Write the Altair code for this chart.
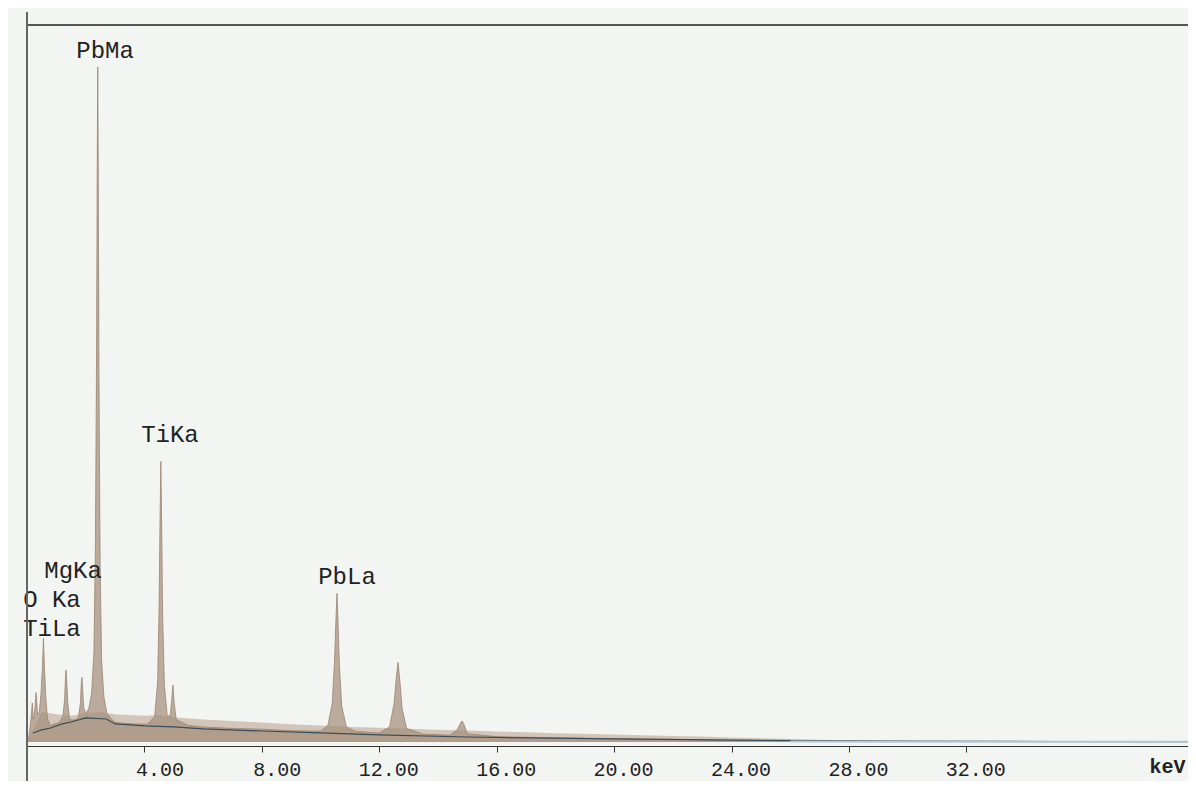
import altair as alt
import pandas as pd

# ---- spectrum (keV, counts) ----
spec_kev = [0.00, 0.05, 0.10, 0.15, 0.18, 0.21, 0.26, 0.31, 0.36, 0.42, 0.48, 0.53, 0.56, 0.59, 0.64,
            0.70, 0.80, 0.95, 1.10, 1.22, 1.28, 1.31, 1.33, 1.35, 1.39, 1.45, 1.60, 1.75, 1.82, 1.85,
            1.87, 1.89, 1.93, 2.00, 2.10, 2.20, 2.28, 2.33, 2.37, 2.39, 2.41, 2.43, 2.45, 2.49, 2.54,
            2.62, 2.72, 2.85, 3.00, 3.30, 3.70, 4.10, 4.35, 4.45, 4.50, 4.53, 4.56, 4.59, 4.62, 4.68,
            4.78, 4.88, 4.93, 4.97, 5.01, 5.08, 5.50, 6.00, 7.00, 8.00, 9.00, 10.00, 10.25, 10.40, 10.48,
            10.53, 10.56, 10.59, 10.64, 10.72, 10.88, 11.20, 12.00, 12.35, 12.50, 12.58, 12.64, 12.70, 12.78,
            12.93, 13.50, 14.40, 14.65, 14.78, 14.82, 14.88, 15.00, 16.00, 18.00, 20.00, 22.00, 24.00, 26.00,
            28.00, 30.00, 34.00, 39.55]
spec_counts = [0, 20, 90, 180, 260, 150, 200, 330, 180, 200, 330, 520, 690, 520, 300,
               150, 110, 120, 130, 170, 280, 430, 480, 420, 260, 150, 145, 160, 260, 390,
               430, 380, 230, 190, 220, 320, 600, 1300, 2600, 3700, 4500, 3700, 2500, 1200, 550,
               300, 190, 160, 130, 125, 120, 118, 170, 400, 900, 1450, 1870, 1400, 850, 380,
               170, 180, 280, 380, 270, 150, 110, 100, 90, 85, 75, 72, 110, 260, 560,
               850, 990, 830, 520, 240, 100, 70, 60, 100, 250, 430, 530, 410, 220,
               90, 52, 45, 80, 130, 140, 120, 55, 35, 28, 22, 17, 12, 8,
               5, 3, 2, 1]

# ---- noise envelope of the continuum ----
env_kev = [0.0, 0.5, 1.0, 1.5, 2.0, 2.5, 3.0, 3.5, 4.0, 4.5, 5.0, 6.0, 7.0, 8.0, 9.0, 10.0,
           11.0, 12.0, 13.0, 14.0, 15.0, 16.0, 17.0, 18.0, 19.0, 20.0, 21.0, 22.0, 23.0, 24.0,
           25.0, 26.0, 27.0, 28.0, 29.0, 30.0]
env_counts = [0, 200, 185, 175, 190, 200, 185, 180, 175, 180, 165, 150, 140, 130, 118, 110,
              100, 95, 88, 82, 76, 70, 64, 58, 54, 50, 45, 40, 36, 30,
              25, 20, 14, 9, 5, 2]

# ---- fitted background line ----
bg_kev = [0.2, 0.5, 0.8, 1.2, 1.5, 2.0, 2.7, 3.0, 4.0, 5.0, 6.0, 8.0, 10.0, 12.0, 15.0, 20.0,
          25.0, 30.0, 35.0, 39.5]
bg_counts = [60, 80, 93, 120, 133, 160, 153, 120, 107, 100, 87, 73, 60, 47, 33, 20,
             10, 6, 3, 2]

# ---- high-energy faint trace ----
tail_kev = [26.0, 30.0, 34.0, 39.55]
tail_counts = [3, 2, 1, 1]

# ---- peak labels ----
label_text = ["PbMa", "TiKa", "PbLa", "MgKa", "O Ka", "TiLa"]
label_kev = [2.66, 4.87, 10.90, 1.57, 0.85, 0.85]
label_counts = [4607, 2047, 1100, 1140, 947, 753]

tick_values = [4, 8, 12, 16, 20, 24, 28, 32]

W, H = 1161, 721
xs = alt.Scale(domain=[0, 39.55], nice=False, zero=False)
ys = alt.Scale(domain=[-27, 4780], nice=False)

spec = pd.DataFrame({"kev": spec_kev, "counts": spec_counts})
env = pd.DataFrame({"kev": env_kev, "counts": env_counts})
bg = pd.DataFrame({"kev": bg_kev, "counts": bg_counts})
tail = pd.DataFrame({"kev": tail_kev, "counts": tail_counts})
labels = pd.DataFrame({"label": label_text, "kev": label_kev, "counts": label_counts})

xaxis = alt.Axis(values=tick_values, format=".2f", grid=False, domainColor="#333333",
                 domainWidth=1.2, tickColor="#333333", tickSize=6, labelFont="Liberation Mono",
                 labelFontSize=20, labelColor="#222222", labelAlign="right", labelOffset=39,
                 labelBaseline="middle", labelPadding=17, title="keV", titleX=1140, titleY=20,
                 titleFont="Liberation Mono", titleFontSize=20, titleFontWeight="bold",
                 titleColor="#222222", titleBaseline="middle", titleAlign="center")

env_layer = alt.Chart(env).mark_area(color="#c4b2a1", opacity=0.7).encode(
    x=alt.X("kev:Q", scale=xs, axis=xaxis),
    y=alt.Y("counts:Q", scale=ys, axis=None),
)
spec_layer = alt.Chart(spec).mark_area(color="#a38c78", line={"color": "#9a8470", "strokeWidth": 0.8}).encode(
    x=alt.X("kev:Q", scale=xs),
    y=alt.Y("counts:Q", scale=ys),
)
bg_layer = alt.Chart(bg).mark_line(color="#3a4e57", strokeWidth=1.2).encode(
    x=alt.X("kev:Q", scale=xs),
    y=alt.Y("counts:Q", scale=ys),
)
tail_layer = alt.Chart(tail).mark_line(color="#b5c6d4", strokeWidth=2).encode(
    x=alt.X("kev:Q", scale=xs),
    y=alt.Y("counts:Q", scale=ys),
)
text_layer = alt.Chart(labels).mark_text(font="Liberation Mono", fontSize=24, color="#222222",
                                         align="center", baseline="middle").encode(
    x=alt.X("kev:Q", scale=xs),
    y=alt.Y("counts:Q", scale=ys),
    text="label:N",
)
top_line = alt.Chart(labels).mark_rule(color="#555555", strokeWidth=1.2).encode(
    x=alt.value(0), x2=alt.value(W), y=alt.value(0)
)
left_line = alt.Chart(labels).mark_rule(color="#666666", strokeWidth=1.2).encode(
    x=alt.value(0), y=alt.value(-13), y2=alt.value(H + 43)
)

chart = alt.layer(env_layer, spec_layer, bg_layer, tail_layer, text_layer, top_line, left_line).properties(
    width=W, height=H,
    autosize=alt.AutoSizeParams(type="none"),
    padding={"left": 19, "top": 17, "right": 0, "bottom": 35},
    background="#f3f5f2",
).configure_view(stroke=None)

chart.save("out.html", embed_options={"renderer": "svg", "actions": False})
